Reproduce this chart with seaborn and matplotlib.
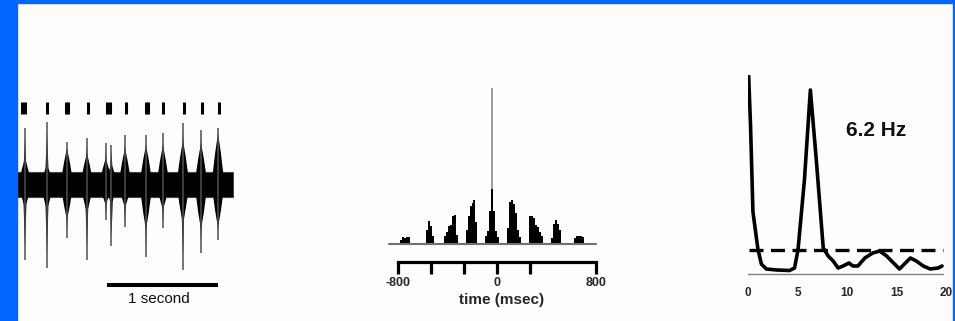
import numpy as np
import pandas as pd
import matplotlib
matplotlib.use("Agg")
import matplotlib.pyplot as plt
import seaborn as sns
from matplotlib.patches import Rectangle

# ---------------- data ----------------
# Panel 1: extracellular trace (time in s, amplitude in arbitrary units)
trace_duration = 1.946
noise_up = 12.3
noise_down = 12.7
spike_times = [0.072, 0.270, 0.450, 0.630, 0.800, 0.850, 0.973, 1.162, 1.315, 1.495, 1.658, 1.811]
spike_up = [56, 62, 42, 46, 41, 39, 49, 49, 51, 61, 54, 56]
spike_down = [76, 84, 54, 76, 36, 62, 43, 73, 44, 86, 69, 56]
burst_up = [26, 19, 36, 31, 26, 20, 36, 39, 39, 44, 41, 51]
burst_down = [24, 26, 36, 29, 21, 20, 24, 46, 26, 40, 46, 44]
raster_times = [0.042, 0.072, 0.268, 0.441, 0.460, 0.642, 0.808, 0.838, 0.982,
                1.158, 1.180, 1.318, 1.505, 1.664, 1.823]
scale_bar = [0.81, 1.81]
scale_label = "1 second"

# Panel 2: autocorrelogram (bin centre lag in ms, 16 ms bins, counts)
acg_lags = [-736, -720, -704, -688, -672,
            -528, -512, -496, -480,
            -384, -368, -352, -336, -320, -304, -288,
            -208, -192, -176, -160, -144, -128,
            -48, -32, -16, 0, 16, 32, 48,
            128, 144, 160, 176, 192, 208, 224,
            304, 320, 336, 352, 368, 384, 400,
            480, 496, 512, 528, 544,
            672, 688, 704, 720, 736]
acg_counts = [4, 7, 6, 7, 7,
              14, 23, 18, 8,
              8, 12, 18, 19, 28, 29, 9,
              14, 28, 38, 41, 44, 22,
              8, 13, 33, 55, 33, 13, 7,
              16, 42, 44, 40, 31, 14, 7,
              28, 28, 26, 19, 17, 12, 8,
              6, 20, 24, 20, 14,
              6, 8, 8, 8, 7]
acg_zero_lag = 156
time_ticks = [-800, -533, -267, 0, 267, 800]
time_ticklabels = ["-800", "", "", "0", "", "800"]

# Panel 3: power spectrum (Hz, power in arbitrary units)
freqs = [0.0, 0.25, 0.5, 1.0, 1.35, 1.85, 2.9, 4.2, 4.7, 5.05, 5.7, 6.3, 6.9, 7.6,
         8.1, 8.6, 9.1, 9.6, 10.2, 10.6, 11.1, 11.8, 12.6, 13.3, 14.0, 14.7,
         15.3, 15.7, 16.4, 17.0, 17.7, 18.4, 19.2, 19.6]
power = [215, 150, 62, 25, 10, 5, 4, 3.5, 6, 24, 94, 184, 114, 26,
         18, 13, 6, 8, 11, 8, 8, 16, 21, 23, 18, 11,
         5, 9, 16, 13, 8, 5, 6, 8]
significance = 24
freq_ticks = [0, 5, 10, 15, 20]
peak_label = "6.2 Hz"

# ---------------- style ----------------
sns.set_theme(style="white")
plt.rcParams['font.family'] = ['Liberation Sans', 'DejaVu Sans']

W, H = 955, 321
fig = plt.figure(figsize=(W / 100, H / 100), dpi=100)
fig.patch.set_facecolor('#fdfdfe')
BLUE = '#0066ff'
fig.patches.append(Rectangle((0, 0), 17 / W, 1, transform=fig.transFigure, color=BLUE, zorder=0))
fig.patches.append(Rectangle((0, 1 - 3 / H), 1, 3 / H, transform=fig.transFigure, color=BLUE, zorder=0))
fig.patches.append(Rectangle((1 - 2 / W, 0), 2 / W, 1, transform=fig.transFigure, color=BLUE, zorder=0))


def box(x0, y0, x1, y1):
    return [x0 / W, 1 - y1 / H, (x1 - x0) / W, (y1 - y0) / H]


def clean(ax):
    ax.set_facecolor('none')
    for s in ax.spines.values():
        s.set_visible(False)
    ax.set_xticks([])
    ax.set_yticks([])


# ---------- panel 1: trace ----------
ax1 = fig.add_axes(box(17, 95, 233, 310))
clean(ax1)
ax1.set_xlim(0, trace_duration)
ax1.set_ylim(-126, 89)
ax1.fill_between([0, trace_duration], [-noise_down] * 2, [noise_up] * 2, color='black', lw=0.8,
                 edgecolor='#444444')
wb = 6.5 / 111
ws = 2.0 / 111
for t, bu, bd in zip(spike_times, burst_up, burst_down):
    ax1.fill([t - wb, t - wb * 0.45, t, t + wb * 0.45, t + wb, t + wb * 0.45, t, t - wb * 0.45],
             [0, bu * 0.6, bu, bu * 0.6, 0, -bd * 0.6, -bd, -bd * 0.6], color='black', lw=0)
for t, su, sd in zip(spike_times, spike_up, spike_down):
    ax1.fill([t - ws, t - ws * 0.4, t, t + ws * 0.4, t + ws, t + ws * 0.4, t, t - ws * 0.4],
             [0, su * 0.55, su * 0.85, su * 0.55, 0, -sd * 0.55, -sd * 0.85, -sd * 0.55],
             color='black', lw=0)
    ax1.vlines(t, -sd, su, color='#505050', lw=1.1)
ax1.vlines(raster_times, 70, 82.3, color='black', lw=2.2)
ax1.plot(scale_bar, [-101, -101], color='black', lw=2.9, solid_capstyle='butt')
ax1.text(np.mean(scale_bar) - 0.03, -115, scale_label, ha='center', va='center', fontsize=11, color='#111111')

# ---------- panel 2: autocorrelogram ----------
px_per_ms = 0.12375
zero_px = 492.3
ax2 = fig.add_axes(box(389, 80, 596, 243.5))
ax2.set_facecolor('none')
acg = pd.DataFrame({"lag": acg_lags, "count": acg_counts})
sns.histplot(data=acg, x="lag", weights="count", binwidth=16, binrange=(-840, 840),
             element="step", fill=True, color='black', alpha=1, linewidth=0, ax=ax2, zorder=2)
clean(ax2)
ax2.set_xlabel("")
ax2.set_ylabel("")
ax2.set_xlim((389 - zero_px) / px_per_ms, (596 - zero_px) / px_per_ms)
ax2.set_ylim(0, 163.5)
ax2.vlines(0, 0, acg_zero_lag, color='#8a8a8a', lw=1.2, zorder=1)
ax2.axhline(0, color='#707070', lw=1.5, clip_on=False, zorder=4)

ax2b = fig.add_axes(box(398, 230, 596, 262))
ax2b.set_facecolor('none')
for k, s in ax2b.spines.items():
    s.set_visible(k == 'bottom')
ax2b.spines['bottom'].set_linewidth(2.3)
ax2b.spines['bottom'].set_color('black')
ax2b.spines['bottom'].set_capstyle('projecting')
ax2b.set_xlim(-800, 800)
ax2b.set_yticks([])
ax2b.set_xticks(time_ticks)
ax2b.set_xticklabels(time_ticklabels, fontsize=9, fontweight='bold')
ax2b.tick_params(axis='x', direction='out', length=8.6, width=2.3, color='black', pad=2.5, bottom=True)
ax2b.set_xlabel("time (msec)", fontsize=11, fontweight='bold')
ax2b.xaxis.set_label_coords((502 - 398) / 198, (262 - 300) / 32)
ax2b.xaxis.label.set_va('center')

# ---------- panel 3: power spectrum ----------
ax3 = fig.add_axes(box(748, 75, 946, 274))
clean(ax3)
spec = pd.DataFrame({"Frequency": freqs, "Power": power})
sns.lineplot(data=spec, x="Frequency", y="Power", color='black', lw=2.6, ax=ax3)
ax3.set_xlim(0, 20)
ax3.set_ylim(0, 199)
ax3.plot([0.1, 19.7], [significance, significance], color='black', lw=2.4,
         dashes=(4.2, 2.25), dash_capstyle='butt', clip_on=False)
ax3.plot([0, 19.7], [0, 0], color='#808080', lw=1.0, clip_on=False)
ax3.set_xticks(freq_ticks)
ax3.set_xticklabels([str(v) for v in freq_ticks], fontsize=8.5, fontweight='bold')
ax3.tick_params(axis='x', length=0, pad=9.5, bottom=True)
ax3.set_xlabel("Frequency (Hz)", fontsize=11.5, fontweight='bold')
ax3.xaxis.set_label_coords((844 - 748) / 198, (274 - 309) / 199)
ax3.xaxis.label.set_va('center')
ax3.set_ylabel("")
ax3.text((876 - 748) / 198, (274 - 130) / 199, peak_label, transform=ax3.transAxes,
         ha='center', va='center', fontsize=15, fontweight='bold', color='#111111')

fig.savefig("out.png", dpi=100, facecolor=fig.get_facecolor())
